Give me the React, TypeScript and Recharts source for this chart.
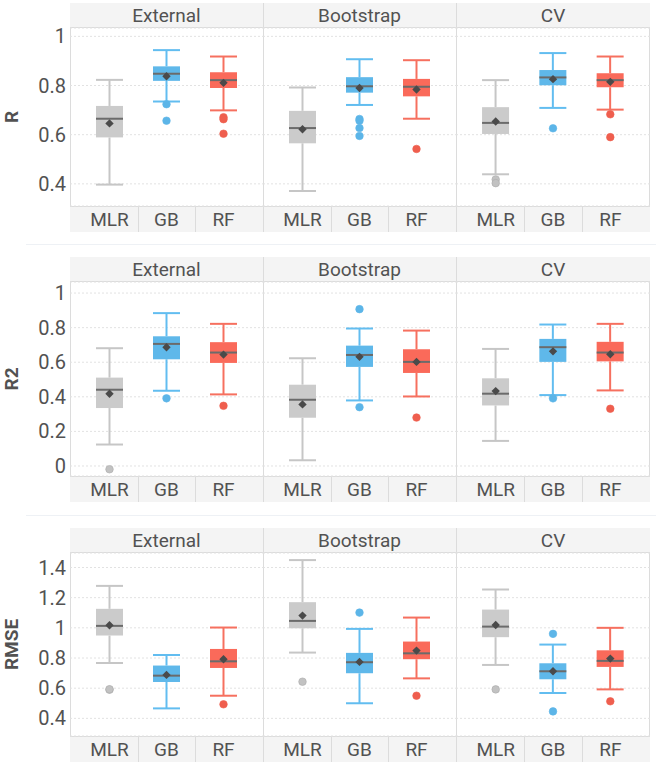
import React from 'react';
import { ComposedChart, Bar, Scatter, XAxis, YAxis, CartesianGrid } from 'recharts';

// ---------- data ----------
const categories = ['MLR', 'GB', 'RF'];
const validations = ['External', 'Bootstrap', 'CV'];
const metrics = ['R', 'R2', 'RMSE'];

const ticksR = [0.4, 0.6, 0.8, 1];
const ticksR2 = [0, 0.2, 0.4, 0.6, 0.8, 1];
const ticksRMSE = [0.4, 0.6, 0.8, 1, 1.2, 1.4];

// box = [lower whisker, q1, median, q3, upper whisker] per category
const R_External_box = [[0.397, 0.589, 0.665, 0.717, 0.823], [0.735, 0.819, 0.848, 0.878, 0.944], [0.699, 0.79, 0.822, 0.854, 0.918]];
const R_External_mean = [0.646, 0.838, 0.811];
const R_External_out = [[], [0.724, 0.657], [0.671, 0.663, 0.604]];

const R_Bootstrap_box = [[0.371, 0.565, 0.627, 0.697, 0.792], [0.721, 0.771, 0.797, 0.834, 0.907], [0.665, 0.756, 0.795, 0.827, 0.903]];
const R_Bootstrap_mean = [0.622, 0.79, 0.784];
const R_Bootstrap_out = [[], [0.664, 0.657, 0.627, 0.595], [0.542]];

const R_CV_box = [[0.439, 0.603, 0.648, 0.712, 0.822], [0.709, 0.801, 0.833, 0.863, 0.932], [0.702, 0.793, 0.822, 0.85, 0.918]];
const R_CV_mean = [0.654, 0.826, 0.815];
const R_CV_out = [[0.418, 0.403], [0.626], [0.683, 0.59]];

const R2_External_box = [[0.124, 0.335, 0.441, 0.511, 0.681], [0.435, 0.617, 0.706, 0.75, 0.884], [0.414, 0.596, 0.656, 0.716, 0.822]];
const R2_External_mean = [0.418, 0.687, 0.644];
const R2_External_out = [[-0.019], [0.391], [0.348]];

const R2_Bootstrap_box = [[0.033, 0.279, 0.383, 0.47, 0.623], [0.379, 0.573, 0.642, 0.696, 0.795], [0.402, 0.538, 0.602, 0.675, 0.783]];
const R2_Bootstrap_mean = [0.356, 0.631, 0.602];
const R2_Bootstrap_out = [[], [0.907, 0.34], [0.28]];

const R2_CV_box = [[0.145, 0.35, 0.418, 0.507, 0.677], [0.41, 0.602, 0.687, 0.735, 0.818], [0.437, 0.605, 0.656, 0.718, 0.822]];
const R2_CV_mean = [0.433, 0.663, 0.646];
const R2_CV_out = [[], [0.391], [0.331]];

const RMSE_External_box = [[0.767, 0.949, 1.013, 1.126, 1.278], [0.466, 0.641, 0.683, 0.75, 0.82], [0.55, 0.734, 0.778, 0.86, 1.002]];
const RMSE_External_mean = [1.017, 0.688, 0.792];
const RMSE_External_out = [[0.59, 0.593], [], [0.493]];

const RMSE_Bootstrap_box = [[0.836, 0.997, 1.046, 1.17, 1.449], [0.5, 0.699, 0.772, 0.834, 0.993], [0.665, 0.792, 0.831, 0.909, 1.068]];
const RMSE_Bootstrap_mean = [1.081, 0.774, 0.849];
const RMSE_Bootstrap_out = [[0.643], [1.101], [0.55]];

const RMSE_CV_box = [[0.754, 0.938, 1.008, 1.121, 1.254], [0.568, 0.659, 0.712, 0.765, 0.889], [0.592, 0.741, 0.781, 0.851, 1.0]];
const RMSE_CV_mean = [1.019, 0.712, 0.796];
const RMSE_CV_out = [[0.592], [0.96, 0.446], [0.513]];

const panelData: any[] = [
  [
    [R_External_box, R_External_mean, R_External_out],
    [R_Bootstrap_box, R_Bootstrap_mean, R_Bootstrap_out],
    [R_CV_box, R_CV_mean, R_CV_out],
  ],
  [
    [R2_External_box, R2_External_mean, R2_External_out],
    [R2_Bootstrap_box, R2_Bootstrap_mean, R2_Bootstrap_out],
    [R2_CV_box, R2_CV_mean, R2_CV_out],
  ],
  [
    [RMSE_External_box, RMSE_External_mean, RMSE_External_out],
    [RMSE_Bootstrap_box, RMSE_Bootstrap_mean, RMSE_Bootstrap_out],
    [RMSE_CV_box, RMSE_CV_mean, RMSE_CV_out],
  ],
];
const rowTicks = [ticksR, ticksR2, ticksRMSE];

// ---------- style / layout ----------
const FONT = 'Roboto, "Noto Sans", sans-serif';
const TEXT = '#525252';
const BORDER = '#dcdcdc';
const STRIP_BG = '#f4f4f4';
const COLORS = [
  { box: '#cbcbcb', whisker: '#c6c6c6', dot: '#c2c2c2', dotStroke: '#ababab' },
  { box: '#5fb8ea', whisker: '#62bdf0', dot: '#5cb5e8', dotStroke: '#5cb5e8' },
  { box: '#fa6a5a', whisker: '#f6705f', dot: '#ef5e4e', dotStroke: '#ef5e4e' },
];
const ROWS = [
  { top: 3, strip: 25, plot: 178, band: 26, domain: [0.31, 1.034] },
  { top: 257, strip: 25, plot: 194, band: 26, domain: [-0.058, 1.064] },
  { top: 528, strip: 25, plot: 183, band: 26, domain: [0.283, 1.496] },
];
const COLS = [
  { left: 70, width: 193 },
  { left: 263, width: 193 },
  { left: 456, width: 194 },
];
const X_PAD = 0.693;
const X_DOMAIN = [-X_PAD, 2 + X_PAD];
const YAXIS_W = 70;

const BoxShape = (props: any) => {
  const { x, y, width, height, payload } = props;
  if (!payload || !payload.box || x == null || y == null) return null;
  const [lo, q1, med, q3, hi] = payload.box;
  const top = Math.min(y, y + height);
  const bot = Math.max(y, y + height);
  const py = (v: number) => bot - ((v - lo) / (hi - lo)) * (bot - top);
  const cx = x + width / 2;
  const c = COLORS[payload.x] || COLORS[0];
  return (
    <g>
      <line x1={cx} x2={cx} y1={py(hi)} y2={py(q3)} stroke={c.whisker} strokeWidth={2} />
      <line x1={cx} x2={cx} y1={py(q1)} y2={py(lo)} stroke={c.whisker} strokeWidth={2} />
      <line x1={x} x2={x + width} y1={py(hi)} y2={py(hi)} stroke={c.whisker} strokeWidth={2} />
      <line x1={x} x2={x + width} y1={py(lo)} y2={py(lo)} stroke={c.whisker} strokeWidth={2} />
      <rect x={x} y={py(q3)} width={width} height={py(q1) - py(q3)} fill={c.box} />
      <line x1={x} x2={x + width} y1={py(med)} y2={py(med)} stroke="#6b6b6b" strokeWidth={2} />
    </g>
  );
};

const DiamondShape = (props: any) => {
  const { cx, cy } = props;
  if (cx == null || cy == null) return null;
  const s = 4.2;
  return <polygon points={`${cx},${cy - s} ${cx + s},${cy} ${cx},${cy + s} ${cx - s},${cy}`} fill="#4a4a4a" />;
};

const DotShape = (props: any) => {
  const { cx, cy, payload } = props;
  if (cx == null || cy == null) return null;
  const c = (payload && COLORS[payload.x]) || COLORS[0];
  return <circle cx={cx} cy={cy} r={3.8} fill={c.dot} stroke={c.dotStroke} strokeWidth={0.6} />;
};

const CatTick = (props: any) => {
  const { x, y, payload } = props;
  if (!payload) return null;
  return (
    <text x={x} y={y + 13} textAnchor="middle" dominantBaseline="central" fontSize={19} fill={TEXT} fontFamily={FONT}>
      {categories[payload.value]}
    </text>
  );
};

const Panel = ({ r, c }: { r: number; c: number }) => {
  const row = ROWS[r];
  const [boxArr, meanArr, outArr] = panelData[r][c];
  const data = categories.map((cat, i) => ({
    x: i,
    cat,
    box: boxArr[i],
    range: [boxArr[i][0], boxArr[i][4]],
    mean: meanArr[i],
  }));
  const outs: { x: number; y: number }[] = [];
  outArr.forEach((vals: number[], i: number) => vals.forEach((v) => outs.push({ x: i, y: v })));
  const first = c === 0;
  const left = first ? 0 : COLS[c].left;
  const width = first ? COLS[0].left + COLS[0].width : COLS[c].width;
  const height = row.strip + row.plot + row.band;
  const metric = metrics[r];
  const renderLabel = (p: any) => {
    const vb = (p && p.viewBox) || { x: 0, y: row.strip, width: YAXIS_W, height: row.plot };
    const lx = 11;
    const ly = vb.y + vb.height / 2;
    return (
      <text
        x={lx}
        y={ly}
        transform={`rotate(-90 ${lx} ${ly})`}
        textAnchor="middle"
        dominantBaseline="central"
        fontSize={19}
        fontWeight={700}
        fill={TEXT}
        fontFamily={FONT}
      >
        {metric}
      </text>
    );
  };
  return (
    <div style={{ position: 'absolute', left, top: row.top }}>
      <ComposedChart width={width} height={height} data={data} margin={{ top: row.strip, right: 0, bottom: 0, left: 0 }}>
        <CartesianGrid vertical={false} stroke="#e2e2e2" strokeDasharray="2 2" />
        <XAxis
          dataKey="x"
          type="number"
          domain={X_DOMAIN}
          allowDataOverflow
          ticks={[0, 1, 2]}
          interval={0}
          height={row.band}
          axisLine={false}
          tickLine={false}
          tickSize={0}
          tickMargin={0}
          tick={<CatTick />}
        />
        <YAxis
          type="number"
          domain={row.domain}
          allowDataOverflow
          ticks={rowTicks[r]}
          interval={0}
          hide={!first}
          width={YAXIS_W}
          axisLine={false}
          tickLine={false}
          tickSize={0}
          tickMargin={4}
          tick={{ fill: TEXT, fontSize: 20, fontFamily: FONT }}
          label={first ? { content: renderLabel } : undefined}
        />
        <Bar dataKey="range" barSize={27} shape={<BoxShape />} isAnimationActive={false} />
        <Scatter dataKey="mean" shape={<DiamondShape />} isAnimationActive={false} />
        <Scatter data={outs} dataKey="y" shape={<DotShape />} isAnimationActive={false} />
      </ComposedChart>
    </div>
  );
};

const Decorations = () => {
  const els: any[] = [];
  const totalW = COLS[2].left + COLS[2].width - COLS[0].left;
  ROWS.forEach((row, r) => {
    const h = row.strip + row.plot + row.band;
    els.push(
      <div key={`frame${r}`} style={{ position: 'absolute', left: COLS[0].left, top: row.top, width: totalW, height: h, border: `1px solid ${BORDER}`, boxSizing: 'border-box' }} />
    );
    els.push(
      <div key={`strip${r}`} style={{ position: 'absolute', left: COLS[0].left, top: row.top, width: totalW, height: row.strip, background: STRIP_BG, borderBottom: `1px solid ${BORDER}`, boxSizing: 'border-box' }} />
    );
    els.push(
      <div key={`band${r}`} style={{ position: 'absolute', left: COLS[0].left, top: row.top + row.strip + row.plot, width: totalW, height: row.band, background: STRIP_BG, borderTop: `1px solid ${BORDER}`, boxSizing: 'border-box' }} />
    );
    COLS.forEach((col, c) => {
      if (c > 0) {
        els.push(<div key={`vd${r}${c}`} style={{ position: 'absolute', left: col.left, top: row.top, width: 1, height: h, background: BORDER }} />);
      }
      [0.5, 1.5].forEach((k, j) => {
        const xx = col.left + (col.width * (k - X_DOMAIN[0])) / (X_DOMAIN[1] - X_DOMAIN[0]);
        els.push(
          <div key={`bs${r}${c}${j}`} style={{ position: 'absolute', left: Math.round(xx), top: row.top + row.strip + row.plot, width: 1, height: row.band, background: BORDER }} />
        );
      });
      els.push(
        <div
          key={`st${r}${c}`}
          style={{ position: 'absolute', left: col.left, top: row.top, width: col.width, height: row.strip, lineHeight: `${row.strip}px`, textAlign: 'center', fontFamily: FONT, fontSize: 19, color: TEXT }}
        >
          {validations[c]}
        </div>
      );
    });
  });
  els.push(<div key="sep1" style={{ position: 'absolute', left: 26, top: 244, width: 630, height: 1, background: '#eef1f5' }} />);
  els.push(<div key="sep2" style={{ position: 'absolute', left: 26, top: 515, width: 630, height: 1, background: '#eef1f5' }} />);
  return <>{els}</>;
};

export default function App() {
  return (
    <div style={{ position: 'absolute', left: 0, top: 0, width: 660, height: 766, background: '#ffffff', overflow: 'hidden' }}>
      <Decorations />
      {ROWS.map((_, r) => COLS.map((__, c) => <Panel key={`${r}-${c}`} r={r} c={c} />))}
    </div>
  );
}
